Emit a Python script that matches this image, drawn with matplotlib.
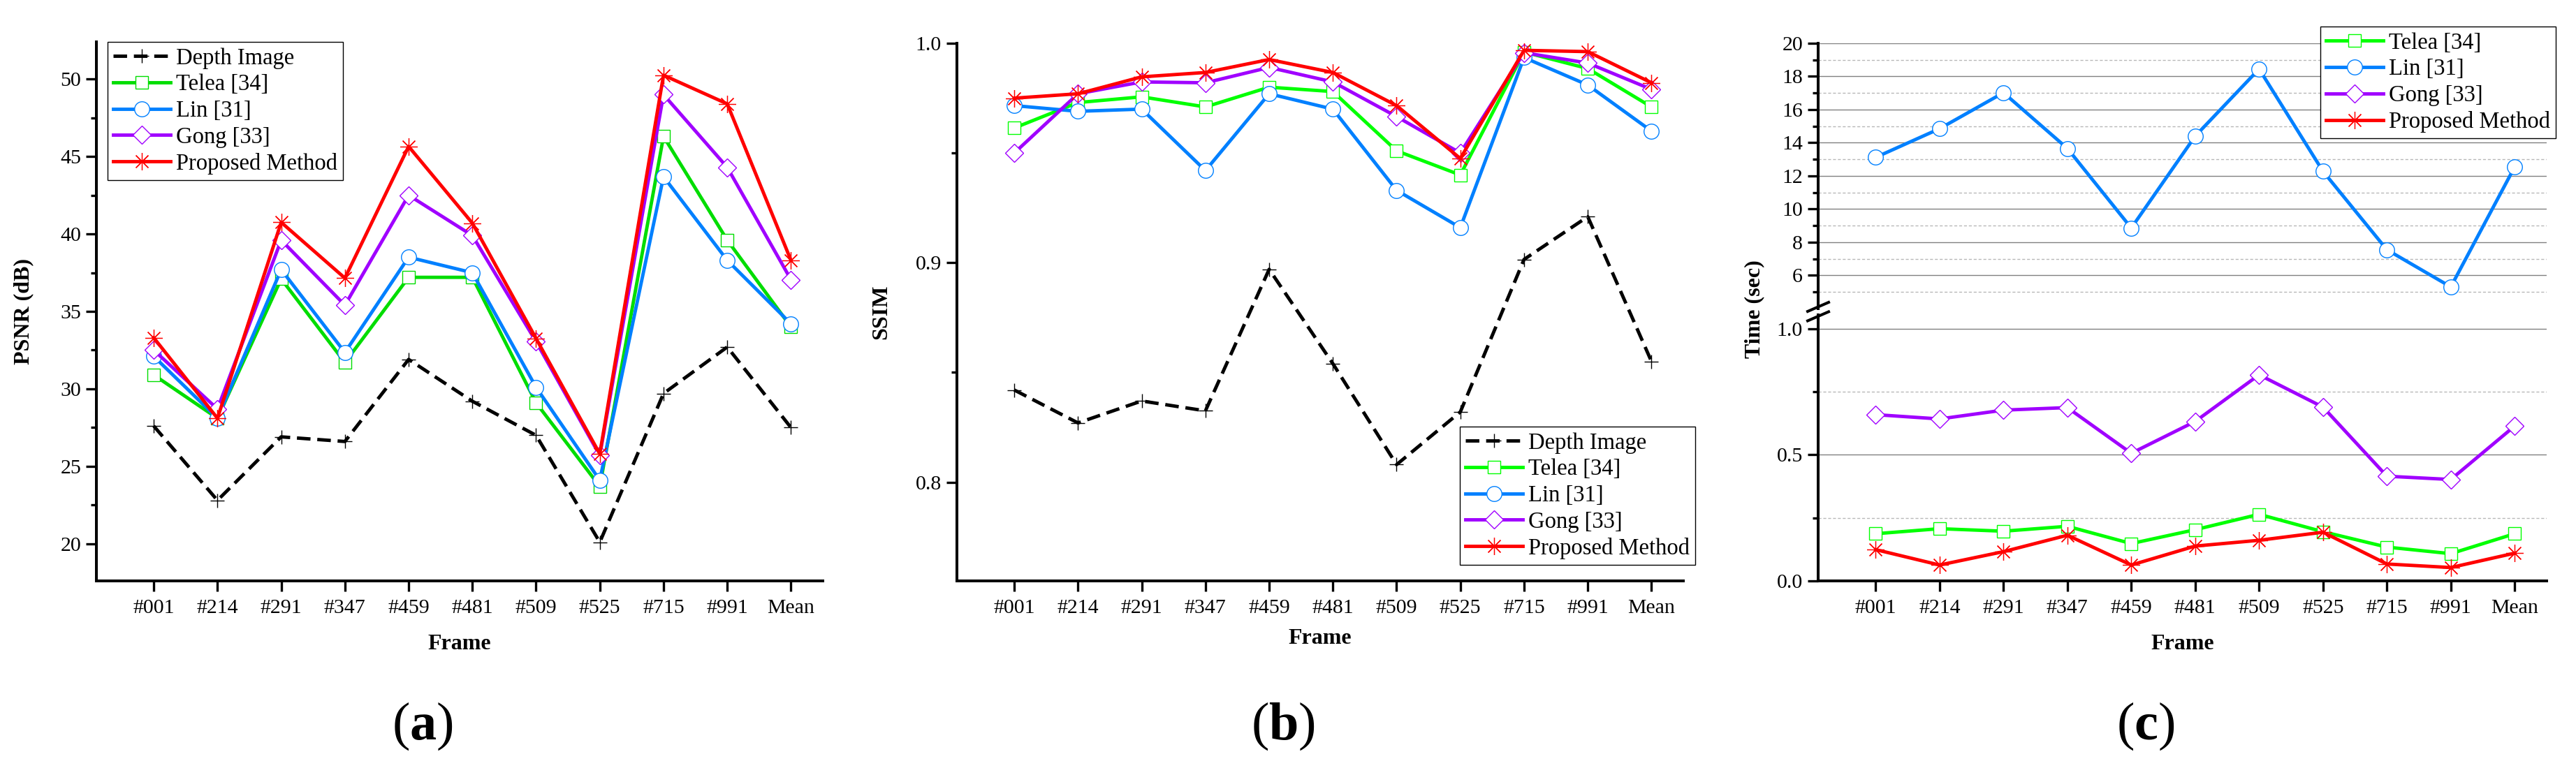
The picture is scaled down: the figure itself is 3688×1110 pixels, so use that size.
import matplotlib
matplotlib.use("Agg")
import matplotlib.pyplot as plt
from matplotlib.lines import Line2D
import numpy as np

plt.rcParams['font.family'] = ['Liberation Serif', 'DejaVu Serif']
plt.rcParams['mathtext.fontset'] = 'custom'
plt.rcParams['mathtext.rm'] = 'Liberation Serif'
plt.rcParams['mathtext.bf'] = 'Liberation Serif:bold'

# ---------------- data ----------------
frames = ['#001', '#214', '#291', '#347', '#459', '#481', '#509', '#525', '#715', '#991', 'Mean']

psnr_depth = [27.6, 22.8, 26.9, 26.6, 31.9, 29.2, 27.0, 20.1, 29.7, 32.7, 27.5]
psnr_telea = [30.9, 28.1, 37.1, 31.7, 37.2, 37.2, 29.1, 23.7, 46.3, 39.6, 34.0]
psnr_lin = [32.1, 28.1, 37.7, 32.35, 38.5, 37.5, 30.1, 24.1, 43.7, 38.3, 34.2]
psnr_gong = [32.5, 28.7, 39.6, 35.4, 42.5, 39.9, 33.05, 25.7, 49.0, 44.3, 37.05]
psnr_prop = [33.3, 28.1, 40.75, 37.15, 45.65, 40.7, 33.25, 25.8, 50.25, 48.4, 38.3]

ssim_depth = [0.842, 0.827, 0.837, 0.8325, 0.897, 0.854, 0.808, 0.832, 0.9015, 0.921, 0.855]
ssim_telea = [0.9614, 0.973, 0.9756, 0.971, 0.980, 0.978, 0.951, 0.940, 0.996, 0.9885, 0.971]
ssim_lin = [0.9716, 0.969, 0.970, 0.942, 0.977, 0.970, 0.933, 0.916, 0.9935, 0.981, 0.960]
ssim_gong = [0.950, 0.977, 0.9824, 0.982, 0.989, 0.9824, 0.9666, 0.950, 0.9957, 0.991, 0.979]
ssim_prop = [0.975, 0.977, 0.9847, 0.9867, 0.9926, 0.9867, 0.9716, 0.9475, 0.9968, 0.9962, 0.982]

time_telea = [0.187, 0.207, 0.197, 0.2165, 0.148, 0.203, 0.264, 0.195, 0.134, 0.108, 0.187]
time_lin = [13.12, 14.85, 17.02, 13.66, 8.86, 14.4, 18.45, 12.28, 7.55, 5.31, 12.55]
time_gong = [0.659, 0.642, 0.677, 0.687, 0.506, 0.632, 0.817, 0.689, 0.415, 0.402, 0.614]
time_prop = [0.124, 0.063, 0.116, 0.181, 0.063, 0.138, 0.161, 0.193, 0.067, 0.053, 0.110]

names = ['Depth Image', 'Telea [34]', 'Lin [31]', 'Gong [33]', 'Proposed Method']

# ---------------- styles ----------------
W, H = 3688, 1110
fig = plt.figure(figsize=(W / 100, H / 100), dpi=100)

def px_axes(l, t, r, b):
    return fig.add_axes([l / W, 1 - b / H, (r - l) / W, (b - t) / H])

LW = 3.5
SPW = 2.9
TICKFS = 21.5
LEGFS = 23.5
LABFS = 23

def style_of(key, green):
    d = dict(
        depth=dict(color='black', ls=(0, (4, 2)), marker='+', ms=14, mew=1.0, mfc='none', mec='black'),
        telea=dict(color=green, ls='-', marker='s', ms=13.5, mew=1.0, mfc='white', mec=green),
        lin=dict(color='#0080ff', ls='-', marker='o', ms=15.5, mew=1.0, mfc='white', mec='#0080ff'),
        gong=dict(color='#a000ff', ls='-', marker='D', ms=13.5, mew=1.0, mfc='white', mec='#a000ff'),
        prop=dict(color='#ff0000', ls='-', marker=(8, 2, 0), ms=18, mew=0.9, mfc='none', mec='#ff0000'),
    )[key]
    d['lw'] = LW
    return d

x = np.arange(len(frames))

def setup_x(ax):
    ax.set_xlim(-0.9, 10.5)
    ax.set_xticks(x)
    ax.set_xticklabels(frames)

def setup_common(ax):
    for s in ['top', 'right']:
        ax.spines[s].set_visible(False)
    for s in ['left', 'bottom']:
        ax.spines[s].set_linewidth(SPW)
    ax.tick_params(which='major', direction='out', length=10.8, width=2.4, labelsize=TICKFS, pad=5)
    ax.tick_params(which='minor', direction='out', length=6, width=2.4)
    ax.tick_params(axis='x', which='major', pad=8)

def legend(ax, handles, labels, xl, yt):
    lg = fig.legend(handles, labels, loc='upper left', bbox_to_anchor=(xl / W, 1 - yt / H),
                    bbox_transform=fig.transFigure, fontsize=LEGFS, frameon=True, fancybox=False,
                    edgecolor='black', framealpha=1, borderpad=0.25, labelspacing=0.22,
                    handlelength=2.5, handletextpad=0.25, borderaxespad=0)
    lg.get_frame().set_linewidth(1.0)
    return lg

# ---------------- panel (a) ----------------
axa = px_axes(138, 60, 1178, 832)
ga = '#00dd00'
hs = []
for key, vals in zip(['depth', 'telea', 'lin', 'gong', 'prop'],
                     [psnr_depth, psnr_telea, psnr_lin, psnr_gong, psnr_prop]):
    h, = axa.plot(x, vals, **style_of(key, ga))
    hs.append(h)
setup_x(axa)
axa.set_ylim(17.6, 52.4)
axa.set_yticks([20, 25, 30, 35, 40, 45, 50])
axa.set_yticks([22.5, 27.5, 32.5, 37.5, 42.5, 47.5], minor=True)
setup_common(axa)
axa.set_ylabel('PSNR (dB)', fontsize=LABFS, fontweight='bold')
axa.yaxis.set_label_coords(-0.0865, 0.5)
axa.set_xlabel('Frame', fontsize=LABFS, fontweight='bold')
axa.xaxis.label.set_va('center')
axa.xaxis.set_label_coords(0.5, -(922 - 832) / 772)
legend(axa, hs, names, 154, 60)

# ---------------- panel (b) ----------------
axb = px_axes(1370, 62, 2410, 832)
gb = '#00ff00'
hs = []
for key, vals in zip(['depth', 'telea', 'lin', 'gong', 'prop'],
                     [ssim_depth, ssim_telea, ssim_lin, ssim_gong, ssim_prop]):
    h, = axb.plot(x, vals, **style_of(key, gb))
    hs.append(h)
setup_x(axb)
axb.set_ylim(0.755, 1.0)
axb.set_yticks([0.8, 0.9, 1.0])
axb.set_yticklabels(['0.8', '0.9', '1.0'])
axb.set_yticks([0.85, 0.95], minor=True)
setup_common(axb)
axb.set_ylabel('SSIM', fontsize=LABFS, fontweight='bold')
axb.yaxis.set_label_coords(-0.0904, 0.5)
axb.set_xlabel('Frame', fontsize=LABFS, fontweight='bold')
axb.xaxis.label.set_va('center')
axb.xaxis.set_label_coords(0.5, -(915 - 832) / 770)
legend(axb, hs, names, 2090, 611)

# ---------------- panel (c) ----------------
CL, CR = 2603, 3646
axu = px_axes(CL, 62, CR, 442)
axl = px_axes(CL, 451, CR, 832)
gc = '#00ff00'

hl, = axu.plot(x, time_lin, **style_of('lin', gc))
ht, = axl.plot(x, time_telea, **style_of('telea', gc))
hg, = axl.plot(x, time_gong, **style_of('gong', gc))
hp, = axl.plot(x, time_prop, **style_of('prop', gc))

for ax in (axu, axl):
    setup_x(ax)
    setup_common(ax)
    ax.set_axisbelow(True)
axu.set_ylim(4, 20)
axu.set_yticks(np.arange(6, 21, 2))
axu.set_yticks(np.arange(5, 20, 2), minor=True)
axu.spines['bottom'].set_visible(False)
axu.tick_params(axis='x', which='both', bottom=False, labelbottom=False)
axl.set_ylim(0, 1.0545)
axl.set_yticks([0.0, 0.5, 1.0])
axl.set_yticklabels(['0.0', '0.5', '1.0'])
axl.set_yticks([0.25, 0.75], minor=True)
for ax in (axu, axl):
    ax.grid(True, which='major', axis='y', color='#808080', lw=1.0, ls='-')
    ax.grid(True, which='minor', axis='y', color='#b8b8b8', lw=1.0, ls=(0, (3, 2)))
axl.set_xlabel('Frame', fontsize=LABFS, fontweight='bold')
axl.xaxis.label.set_va('center')
axl.xaxis.set_label_coords(0.5, -(922 - 832) / 381)
fig.text(2512 / W, 1 - 443 / H, 'Time (sec)', rotation=90, fontsize=LABFS, fontweight='bold',
         ha='center', va='center')

# break marks
for yc in (439.5, 453):
    fig.add_artist(Line2D([(CL - 15) / W, (CL + 15) / W],
                          [1 - (yc + 6.5) / H, 1 - (yc - 6.5) / H],
                          transform=fig.transFigure, color='black', lw=SPW))

legend(axl, [ht, hl, hg, hp], names[1:], 3322, 38)

# ---------------- panel labels ----------------
for lab, xc in (('a', 605), ('b', 1837), ('c', 3072)):
    fig.text(xc / W, 1 - 1040 / H, r'$\mathregular{(}\mathbf{%s}\mathregular{)}$' % lab,
             fontsize=55, ha='center', va='center')

fig.savefig('out.png', dpi=100)
